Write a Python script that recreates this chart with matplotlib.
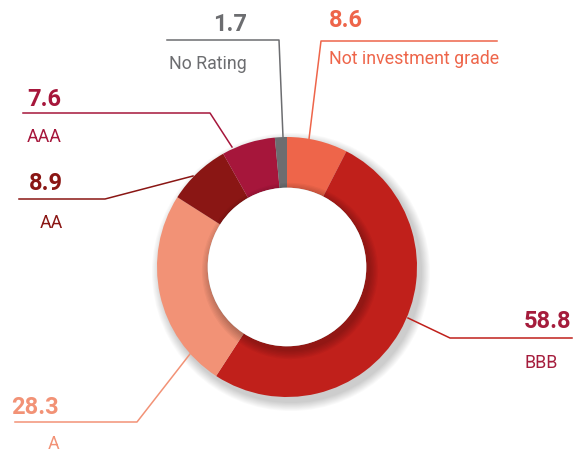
import matplotlib.pyplot as plt
from matplotlib.patches import Circle

plt.rcParams['font.family'] = ['Roboto', 'DejaVu Sans']

# share of portfolio by credit rating, clockwise from 12 o'clock
ratings = ["Not investment grade", "BBB", "A", "AA", "AAA", "No Rating"]
values = [8.6, 58.8, 28.3, 8.9, 7.6, 1.7]
wedge_colors = ["#EE654A", "#C0201B", "#F29276", "#8A1614", "#A6163B", "#6C6D70"]
text_colors = ["#EE654A", "#A51C3C", "#F29276", "#8A1614", "#A6163B", "#6C6D70"]

W, H = 578, 452
CX, CY, R = 287, 268, 130
RING = 0.39
R_IN = R * (1 - RING)


def fy(y):
    # pixel row (from the top) to axis y
    return H - y


fig = plt.figure(figsize=(W / 100, H / 100), dpi=100)
ax = fig.add_axes([0, 0, 1, 1])

# soft drop shadow under the ring
for i in range(10):
    ax.add_patch(Circle((CX + 4, fy(CY + 5)), R + 1 + i * 0.9,
                        color='black', alpha=0.018, lw=0, zorder=0))

ax.pie(values, colors=wedge_colors, startangle=90, counterclock=False,
       center=(CX, fy(CY)), radius=R, frame=True,
       wedgeprops=dict(width=R * RING, linewidth=0))
ax.set_xlim(0, W)
ax.set_ylim(0, H)
ax.set_aspect('equal')
ax.axis('off')

# shading on the ring just outside the hole, heavier towards the lower right
for i in range(7):
    ax.add_patch(Circle((CX + 3, fy(CY + 4)), R_IN + 1 + i * 1.3,
                        color='black', alpha=0.035, lw=0, zorder=3))
ax.add_patch(Circle((CX, fy(CY)), R_IN, color='white', lw=0, zorder=4))

# leader lines (pixel coordinates)
leaders = {
    "Not investment grade": [(497, 42), (321, 42), (309, 140)],
    "BBB": [(408, 319), (450, 339), (572, 339)],
    "A": [(15, 423), (137, 423), (190, 355)],
    "AA": [(19, 200), (105, 200), (193, 177)],
    "AAA": [(23, 114), (210, 114), (232, 148)],
    "No Rating": [(167, 41), (279, 41), (283, 138)],
}
for name, col in zip(ratings, wedge_colors):
    xs = [p[0] for p in leaders[name]]
    ys = [fy(p[1]) for p in leaders[name]]
    ax.plot(xs, ys, color=col, lw=1.1, zorder=5)

# value / label positions: (x, number baseline, label baseline, alignment)
label_pos = {
    "Not investment grade": (329, 27, 64, 'left'),
    "BBB": (524, 328, 368, 'left'),
    "A": (59, 414, 449, 'right'),
    "AA": (63, 190, 228, 'right'),
    "AAA": (27, 106, 142, 'left'),
    "No Rating": (247, 31, 69, 'right'),
}
for name, val, col in zip(ratings, values, text_colors):
    x, yn, yl, ha = label_pos[name]
    ax.text(x, fy(yn), f"{val:.1f}", color=col, fontsize=17, fontweight='bold',
            ha=ha, va='baseline', zorder=6)
    ax.text(x, fy(yl), name, color=col, fontsize=12.8, ha=ha, va='baseline', zorder=6)

fig.savefig("out.png", dpi=100)
